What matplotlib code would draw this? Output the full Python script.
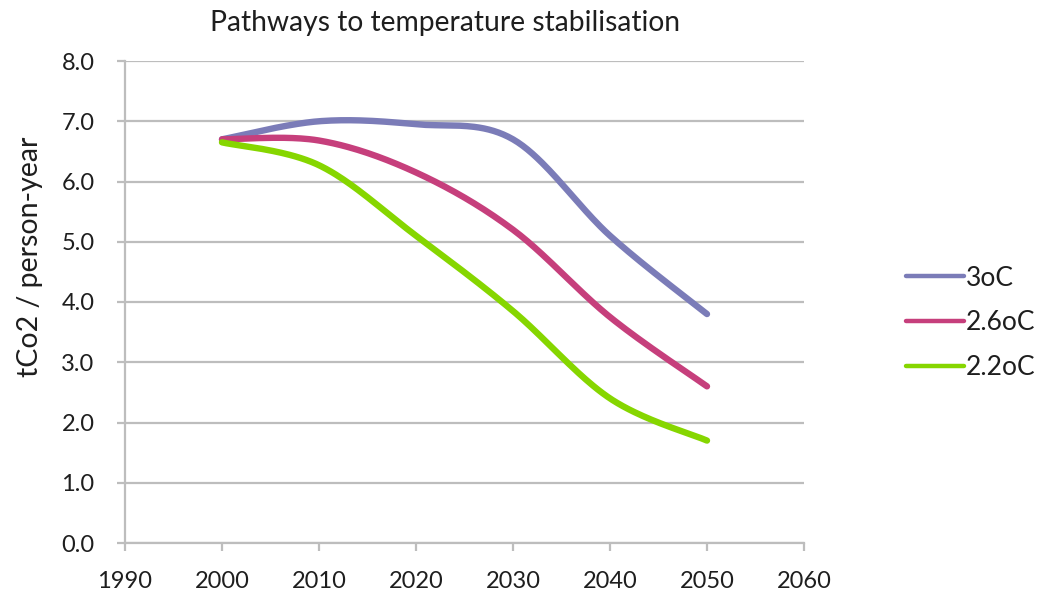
import numpy as np
import matplotlib
matplotlib.use("Agg")
import matplotlib.pyplot as plt

years = [2000, 2010, 2020, 2030, 2040, 2050]
series_names = ["3oC", "2.6oC", "2.2oC"]
path_3c = [6.7, 7.0, 6.95, 6.7, 5.1, 3.8]
path_26c = [6.7, 6.68, 6.15, 5.2, 3.75, 2.6]
path_22c = [6.65, 6.27, 5.1, 3.85, 2.4, 1.7]
x_ticks = [1990, 2000, 2010, 2020, 2030, 2040, 2050, 2060]
y_ticks = [0, 1, 2, 3, 4, 5, 6, 7, 8]

colors = ["#7b7cb8", "#c63f7c", "#86d600"]


def smooth(x, y, n=40):
    """Catmull-Rom style smoothing through the given points (like a smoothed scatter line)."""
    x = np.asarray(x, float)
    y = np.asarray(y, float)
    xs, ys = [], []
    for i in range(len(x) - 1):
        p0 = (x[i - 1], y[i - 1]) if i > 0 else (x[i], y[i])
        p1 = (x[i], y[i])
        p2 = (x[i + 1], y[i + 1])
        p3 = (x[i + 2], y[i + 2]) if i + 2 < len(x) else (x[i + 1], y[i + 1])
        c1 = (p1[0] + (p2[0] - p0[0]) / 6, p1[1] + (p2[1] - p0[1]) / 6)
        c2 = (p2[0] - (p3[0] - p1[0]) / 6, p2[1] - (p3[1] - p1[1]) / 6)
        t = np.linspace(0, 1, n, endpoint=(i == len(x) - 2))
        b0 = (1 - t) ** 3
        b1 = 3 * (1 - t) ** 2 * t
        b2 = 3 * (1 - t) * t ** 2
        b3 = t ** 3
        xs.append(b0 * p1[0] + b1 * c1[0] + b2 * c2[0] + b3 * p2[0])
        ys.append(b0 * p1[1] + b1 * c1[1] + b2 * c2[1] + b3 * p2[1])
    return np.concatenate(xs), np.concatenate(ys)


plt.rcParams["font.family"] = ["Lato", "DejaVu Sans"]
text_c = "#1e1e1e"

fig = plt.figure(figsize=(10.37, 6.08), dpi=100)
ax = fig.add_axes([125 / 1037, 1 - 543 / 608, (804 - 125) / 1037, (543 - 61) / 608])

for name, vals, c in zip(series_names, [path_3c, path_26c, path_22c], colors):
    sx, sy = smooth(years, vals)
    ax.plot(sx, sy, color=c, lw=4.6, solid_capstyle="round", label=name, zorder=3)

ax.set_xlim(x_ticks[0], x_ticks[-1])
ax.set_ylim(y_ticks[0], y_ticks[-1])
ax.set_xticks(x_ticks)
ax.set_yticks(y_ticks)
ax.set_yticklabels([f"{v:.1f}" for v in y_ticks])

grid_c = "#bdbdbd"
ax.grid(axis="y", color=grid_c, lw=1.6, zorder=1)
ax.set_axisbelow(True)
for s in ["top", "right"]:
    ax.spines[s].set_visible(False)
for s in ["left", "bottom"]:
    ax.spines[s].set_color(grid_c)
    ax.spines[s].set_linewidth(1.6)
ax.tick_params(axis="both", colors=grid_c, width=1.6, length=6, direction="out",
               labelcolor=text_c, labelsize=17)
ax.tick_params(axis="y", pad=16)
ax.tick_params(axis="x", pad=14)

fig.text(445 / 1037, 1 - 23 / 608, "Pathways to temperature stabilisation",
         ha="center", va="center", fontsize=20.3, color=text_c)
fig.text(30 / 1037, 1 - 257 / 608, "tCo2 / person-year", rotation=90,
         ha="center", va="center", fontsize=20.5, color=text_c)

leg = ax.legend(loc="center left", bbox_to_anchor=(893 / 1037, 1 - 323 / 608),
                bbox_transform=fig.transFigure, frameon=False, fontsize=19,
                handlelength=2.2, handletextpad=0.05, labelspacing=0.75,
                borderpad=0.0)
for t in leg.get_texts():
    t.set_color(text_c)
for h in leg.legend_handles:
    h.set_linewidth(3.2)

fig.savefig("out.png", dpi=100, facecolor="white")
